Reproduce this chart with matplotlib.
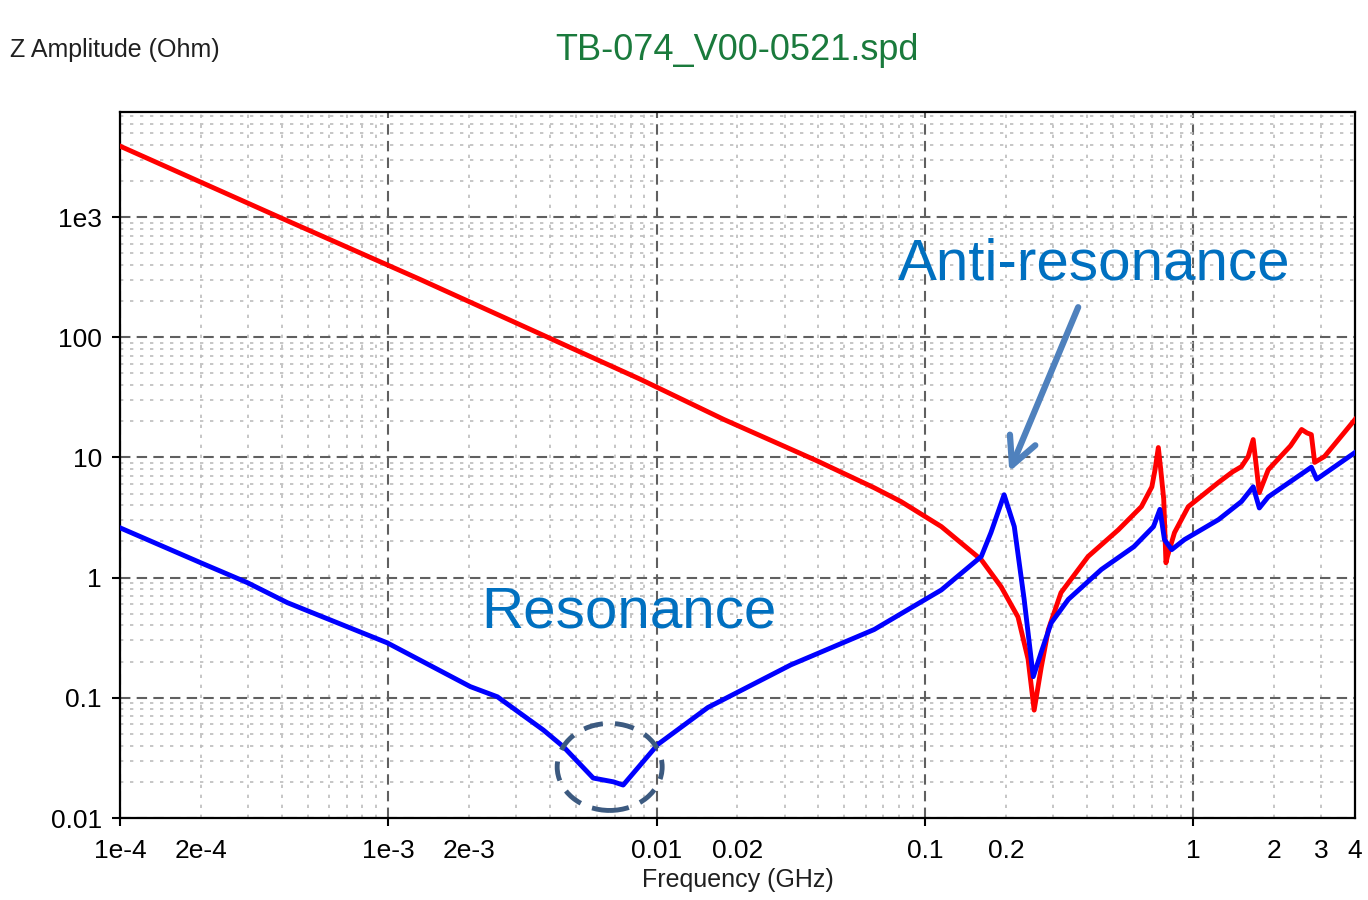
#libs
import matplotlib
matplotlib.use("Agg")
import matplotlib.pyplot as plt
import numpy as np
from matplotlib.ticker import LogLocator, FuncFormatter, NullFormatter
from matplotlib.patches import Ellipse
from matplotlib.transforms import ScaledTranslation

#data (GHz, Ohm)
red_f = [1e-4, 4e-4, 1.31e-3, 0.0087, 0.0178, 0.0399, 0.0646, 0.0813, 0.115, 0.162,
         0.192, 0.222, 0.242, 0.255, 0.271, 0.288, 0.321, 0.405, 0.525, 0.64,
         0.70, 0.72, 0.74, 0.755, 0.775, 0.79, 0.80, 0.85, 0.957, 1.24,
         1.40, 1.51, 1.6, 1.67, 1.76, 1.9, 2.3, 2.53, 2.65, 2.75,
         2.83, 3.08, 4.0]
red_z = [3900, 980, 304, 44.7, 20.7, 9.3, 5.6, 4.3, 2.66, 1.41,
         0.84, 0.47, 0.21, 0.079, 0.18, 0.37, 0.75, 1.5, 2.5, 3.9,
         5.7, 8.0, 12.1, 8.0, 4.5, 1.33, 1.5, 2.37, 3.9, 6.2,
         7.6, 8.4, 10.2, 14.1, 5.1, 7.9, 12.5, 17.1, 16.0, 15.5,
         9.1, 10.2, 20.7]

blue_f = [1e-4, 2e-4, 2.98e-4, 4.2e-4, 9.9e-4, 2.02e-3, 2.55e-3, 3.78e-3, 4.5e-3, 5.8e-3,
          6.9e-3, 7.5e-3, 0.0101, 0.0155, 0.0316, 0.0646, 0.115, 0.162, 0.176, 0.197,
          0.215, 0.234, 0.253, 0.271, 0.295, 0.342, 0.454, 0.60, 0.71, 0.75,
          0.78, 0.83, 0.925, 1.24, 1.51, 1.67, 1.76, 1.9, 2.75, 2.88,
          4.0]
blue_z = [2.6, 1.33, 0.91, 0.62, 0.287, 0.124, 0.102, 0.054, 0.039, 0.0215,
          0.020, 0.0188, 0.041, 0.083, 0.188, 0.37, 0.79, 1.5, 2.37, 4.9,
          2.66, 0.66, 0.15, 0.24, 0.42, 0.66, 1.17, 1.81, 2.66, 3.7,
          2.07, 1.71, 2.07, 3.04, 4.3, 5.7, 3.8, 4.7, 8.3, 6.6,
          11.0]

x_tick_vals = [1e-4, 2e-4, 1e-3, 2e-3, 0.01, 0.02, 0.1, 0.2, 1, 2, 3, 4]
x_tick_labels = ["1e-4", "2e-4", "1e-3", "2e-3", "0.01", "0.02", "0.1", "0.2", "1", "2", "3", "4"]
y_tick_vals = [0.01, 0.1, 1, 10, 100, 1e3]
y_tick_labels = ["0.01", "0.1", "1", "10", "100", "1e3"]

plt.rcParams['font.family'] = ['Liberation Sans', 'DejaVu Sans']

fig = plt.figure(figsize=(13.68, 9), dpi=100)
ax = fig.add_axes([0.0877, 0.0911, 0.9028, 0.7845])
ax.set_xscale('log')
ax.set_yscale('log')
ax.set_xlim(1e-4, 4)
ax.set_ylim(0.01, 7500)

#curves
ax.plot(red_f, red_z, color='#ff0000', lw=3.5, zorder=3, solid_joinstyle='round')
ax.plot(blue_f, blue_z, color='#0000ff', lw=3.5, zorder=4, solid_joinstyle='round')

#ticks + grid
ax.xaxis.set_major_locator(LogLocator(base=10, numticks=20))
ax.xaxis.set_minor_locator(LogLocator(base=10, subs=np.arange(2, 10), numticks=50))
ax.yaxis.set_major_locator(LogLocator(base=10, numticks=20))
ax.yaxis.set_minor_locator(LogLocator(base=10, subs=np.arange(2, 10), numticks=50))

def xlab(v, p):
    for tv, tl in zip(x_tick_vals, x_tick_labels):
        if abs(np.log10(v) - np.log10(tv)) < 1e-3:
            return tl
    return ""

def ylab(v, p):
    for tv, tl in zip(y_tick_vals, y_tick_labels):
        if abs(np.log10(v) - np.log10(tv)) < 1e-3:
            return tl
    return ""

ax.xaxis.set_major_formatter(FuncFormatter(xlab))
ax.xaxis.set_minor_formatter(FuncFormatter(xlab))
ax.yaxis.set_major_formatter(FuncFormatter(ylab))
ax.yaxis.set_minor_formatter(NullFormatter())

ax.tick_params(which='major', length=6, width=1.5, labelsize=19, colors='black')
ax.tick_params(axis='x', which='major', pad=9)
ax.tick_params(axis='x', which='minor', length=0, pad=9 + 6, labelsize=19)
ax.tick_params(axis='y', which='major', pad=7)
ax.tick_params(axis='y', which='minor', length=0)
ax.tick_params(top=False, right=False)

ax.grid(True, which='major', color='#606060', linestyle=(0, (5, 3)), lw=1.5, zorder=1)
ax.grid(True, which='minor', color='#bcbcbc', linestyle=(0, (2, 4)), lw=1.2, zorder=0)
ax.set_axisbelow(True)
for s in ax.spines.values():
    s.set_linewidth(1.6)
    s.set_color('black')

#texts
fig.text(10 / 1368, 1 - 50 / 900, "Z Amplitude (Ohm)", fontsize=18, ha='left', va='center', color='#202020')
fig.text(737 / 1368, 1 - 50 / 900, "TB-074_V00-0521.spd", fontsize=26, ha='center', va='center', color='#1a7a3c')
ax.set_xlabel("Frequency (GHz)", fontsize=18, labelpad=4, color='#202020')

#annotations
ax.text(0.0792, 405, "Anti-resonance", fontsize=42, color='#0070c0', ha='left', va='center', zorder=6)
ax.text(0.00222, 0.51, "Resonance", fontsize=42, color='#0070c0', ha='left', va='center', zorder=6)
ax.annotate("", xy=(0.206, 7.6), xytext=(0.372, 178),
            arrowprops=dict(arrowstyle='->, head_length=0.9, head_width=0.45', color='#4f81bd', lw=4.5,
                            mutation_scale=22, shrinkA=0, shrinkB=0),
            zorder=6)
circ_tr = fig.dpi_scale_trans + ScaledTranslation(0.00668, 0.0266, ax.transData)
ax.add_patch(Ellipse((0, 0), 1.05, 0.87, transform=circ_tr, fill=False, edgecolor='#3c5a80',
                     lw=3.5, linestyle=(0, (4, 2.5)), zorder=6, clip_on=False))

fig.savefig("out.png", dpi=100, facecolor='white')
